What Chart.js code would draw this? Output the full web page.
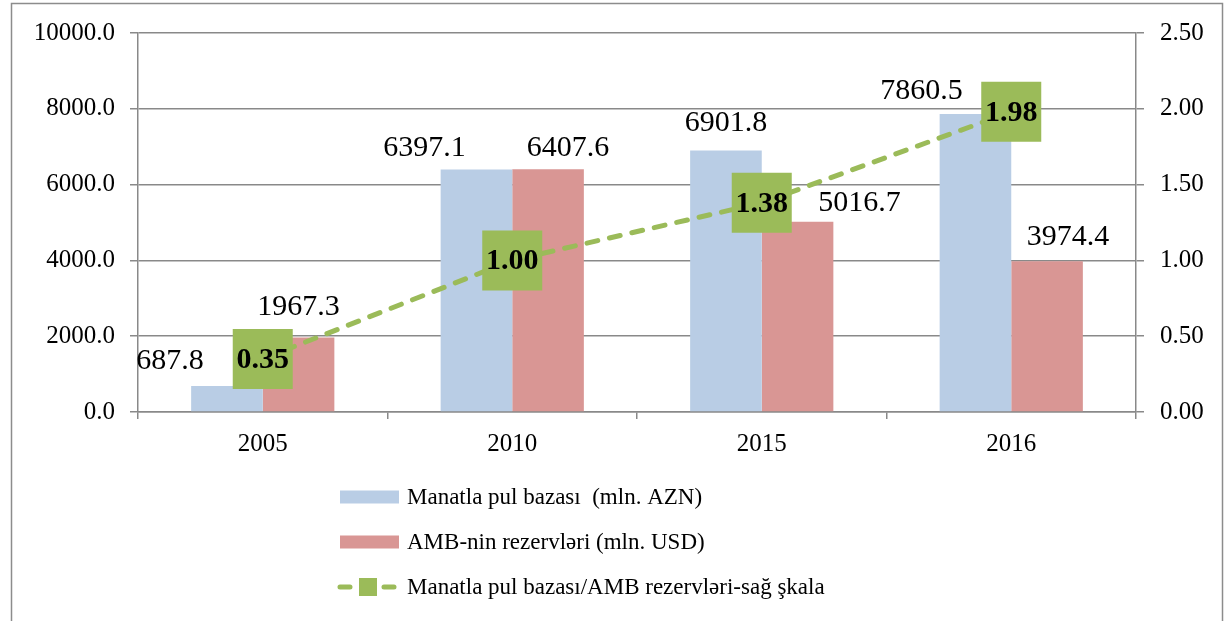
<!DOCTYPE html>
<html><head><meta charset="utf-8">
<script src="https://cdn.jsdelivr.net/npm/chart.js@4/dist/chart.umd.min.js"></script>
<style>html,body{margin:0;padding:0;background:#fff;overflow:hidden}#wrap{width:1228px;height:621px;position:relative}</style>
</head><body><div id="wrap"><canvas id="c" width="1228" height="621"></canvas></div>
<script>
const categories = ['2005', '2010', '2015', '2016'];
const baseAZN = [687.8, 6397.1, 6901.8, 7860.5];
const reservesUSD = [1967.3, 6407.6, 5016.7, 3974.4];
const ratio = [0.35, 1.00, 1.38, 1.98];
const leftTicks = [0, 2000, 4000, 6000, 8000, 10000];
const rightTicks = [0, 0.5, 1.0, 1.5, 2.0, 2.5];
const seriesNames = ['Manatla pul bazası  (mln. AZN)', 'AMB-nin rezervləri (mln. USD)', 'Manatla pul bazası/AMB rezervləri-sağ şkala'];

const FONT = '"Liberation Serif", "Times New Roman", serif';
const BLUE = '#B9CDE5', PINK = '#D99694', GREEN = '#9BBB59', GRAY = '#898989';

// label placement (offsets from bar top centre), per dataset
const labelOffsets = {
  0: [[-57, -25], [-52, -21], [0, -27], [-54, -23]],
  1: [[0, -30], [20, -21], [62, -19], [21, -24]]
};

const framePlugin = {
  id: 'frame',
  beforeDraw(chart) {
    const ctx = chart.ctx;
    ctx.save();
    ctx.fillStyle = '#fff';
    ctx.fillRect(0, 0, chart.width, chart.height);
    ctx.strokeStyle = '#8c8c8c';
    ctx.lineWidth = 1.5;
    ctx.strokeRect(11.5, 3.5, 1211, 700);
    ctx.restore();
  }
};

const labelPlugin = {
  id: 'valueLabels',
  afterDatasetsDraw(chart) {
    const ctx = chart.ctx;
    ctx.save();
    ctx.fillStyle = '#000';
    ctx.textAlign = 'center';
    ctx.textBaseline = 'middle';
    [0, 1].forEach(di => {
      const meta = chart.getDatasetMeta(di);
      const ds = chart.data.datasets[di];
      ctx.font = '30px ' + FONT;
      meta.data.forEach((el, i) => {
        const off = labelOffsets[di][i];
        ctx.fillText(ds.data[i].toFixed(1), el.x + off[0], el.y + off[1]);
      });
    });
    const lm = chart.getDatasetMeta(2);
    ctx.font = 'bold 30px ' + FONT;
    lm.data.forEach((el, i) => {
      ctx.fillText(chart.data.datasets[2].data[i].toFixed(2), el.x, el.y + 1);
    });
    ctx.restore();
  }
};

const legendPlugin = {
  id: 'customLegend',
  afterDraw(chart) {
    const ctx = chart.ctx;
    const rows = [497, 542, 587];
    ctx.save();
    ctx.font = '23px ' + FONT;
    ctx.textAlign = 'left';
    ctx.textBaseline = 'middle';
    ctx.fillStyle = BLUE; ctx.fillRect(340, rows[0] - 6.5, 59, 13);
    ctx.fillStyle = PINK; ctx.fillRect(340, rows[1] - 6.5, 59, 13);
    ctx.strokeStyle = GREEN; ctx.lineWidth = 5; ctx.lineCap = 'round';
    ctx.setLineDash([10, 12]);
    ctx.beginPath(); ctx.moveTo(340, rows[2]); ctx.lineTo(396, rows[2]); ctx.stroke();
    ctx.setLineDash([]);
    ctx.fillStyle = GREEN; ctx.fillRect(359, rows[2] - 9, 18, 18);
    ctx.fillStyle = '#000';
    seriesNames.forEach((n, i) => ctx.fillText(n, 407, rows[i] + 1));
    ctx.restore();
  }
};

function fixVertical(width) {
  return function (s) { s.width = width; s.paddingTop = 0; s.paddingBottom = 0; };
}

new Chart(document.getElementById('c'), {
  data: {
    labels: categories,
    datasets: [
      { type: 'bar', label: seriesNames[0], data: baseAZN, backgroundColor: BLUE, borderWidth: 0, yAxisID: 'y', order: 1, categoryPercentage: 0.574, barPercentage: 1 },
      { type: 'bar', label: seriesNames[1], data: reservesUSD, backgroundColor: PINK, borderWidth: 0, yAxisID: 'y', order: 2, categoryPercentage: 0.574, barPercentage: 1 },
      { type: 'line', label: seriesNames[2], data: ratio, yAxisID: 'y1', order: 0, borderColor: GREEN, borderWidth: 5, borderDash: [11, 12], borderCapStyle: 'round', tension: 0, fill: false, clip: false,
        pointStyle: 'rect', pointRadius: 42.43, pointHoverRadius: 42.43, pointBackgroundColor: GREEN, pointBorderWidth: 0, pointBorderColor: GREEN }
    ]
  },
  options: {
    responsive: false,
    animation: false,
    devicePixelRatio: 1,
    layout: { autoPadding: false, padding: { top: 33, left: 0, right: 0, bottom: 149 } },
    plugins: { legend: { display: false }, tooltip: { enabled: false } },
    scales: {
      x: {
        offset: true,
        grid: { offset: true, drawOnChartArea: false, color: GRAY, tickLength: 7, lineWidth: 1.5 },
        border: { color: GRAY, width: 1.5 },
        ticks: { font: { family: FONT, size: 25 }, color: '#000', padding: 10, maxRotation: 0 },
        afterFit(s) { s.height = 60; s.paddingLeft = 0; s.paddingRight = 0; }
      },
      y: {
        position: 'left', min: 0, max: 10000,
        afterBuildTicks(s) { s.ticks = leftTicks.map(v => ({ value: v })); },
        grid: { color: GRAY, tickLength: 8, lineWidth: 1.5 },
        border: { color: GRAY, width: 1.5 },
        ticks: { font: { family: FONT, size: 25 }, color: '#000', padding: 15, callback: v => Number(v).toFixed(1) },
        afterFit: fixVertical(138)
      },
      y1: {
        position: 'right', min: 0, max: 2.5,
        afterBuildTicks(s) { s.ticks = rightTicks.map(v => ({ value: v })); },
        grid: { drawOnChartArea: false, color: GRAY, tickLength: 8, lineWidth: 1.5 },
        border: { color: GRAY, width: 1.5 },
        ticks: { font: { family: FONT, size: 25 }, color: '#000', padding: 16, callback: v => Number(v).toFixed(2) },
        afterFit: fixVertical(92)
      }
    }
  },
  plugins: [framePlugin, labelPlugin, legendPlugin]
});
</script></body></html>
